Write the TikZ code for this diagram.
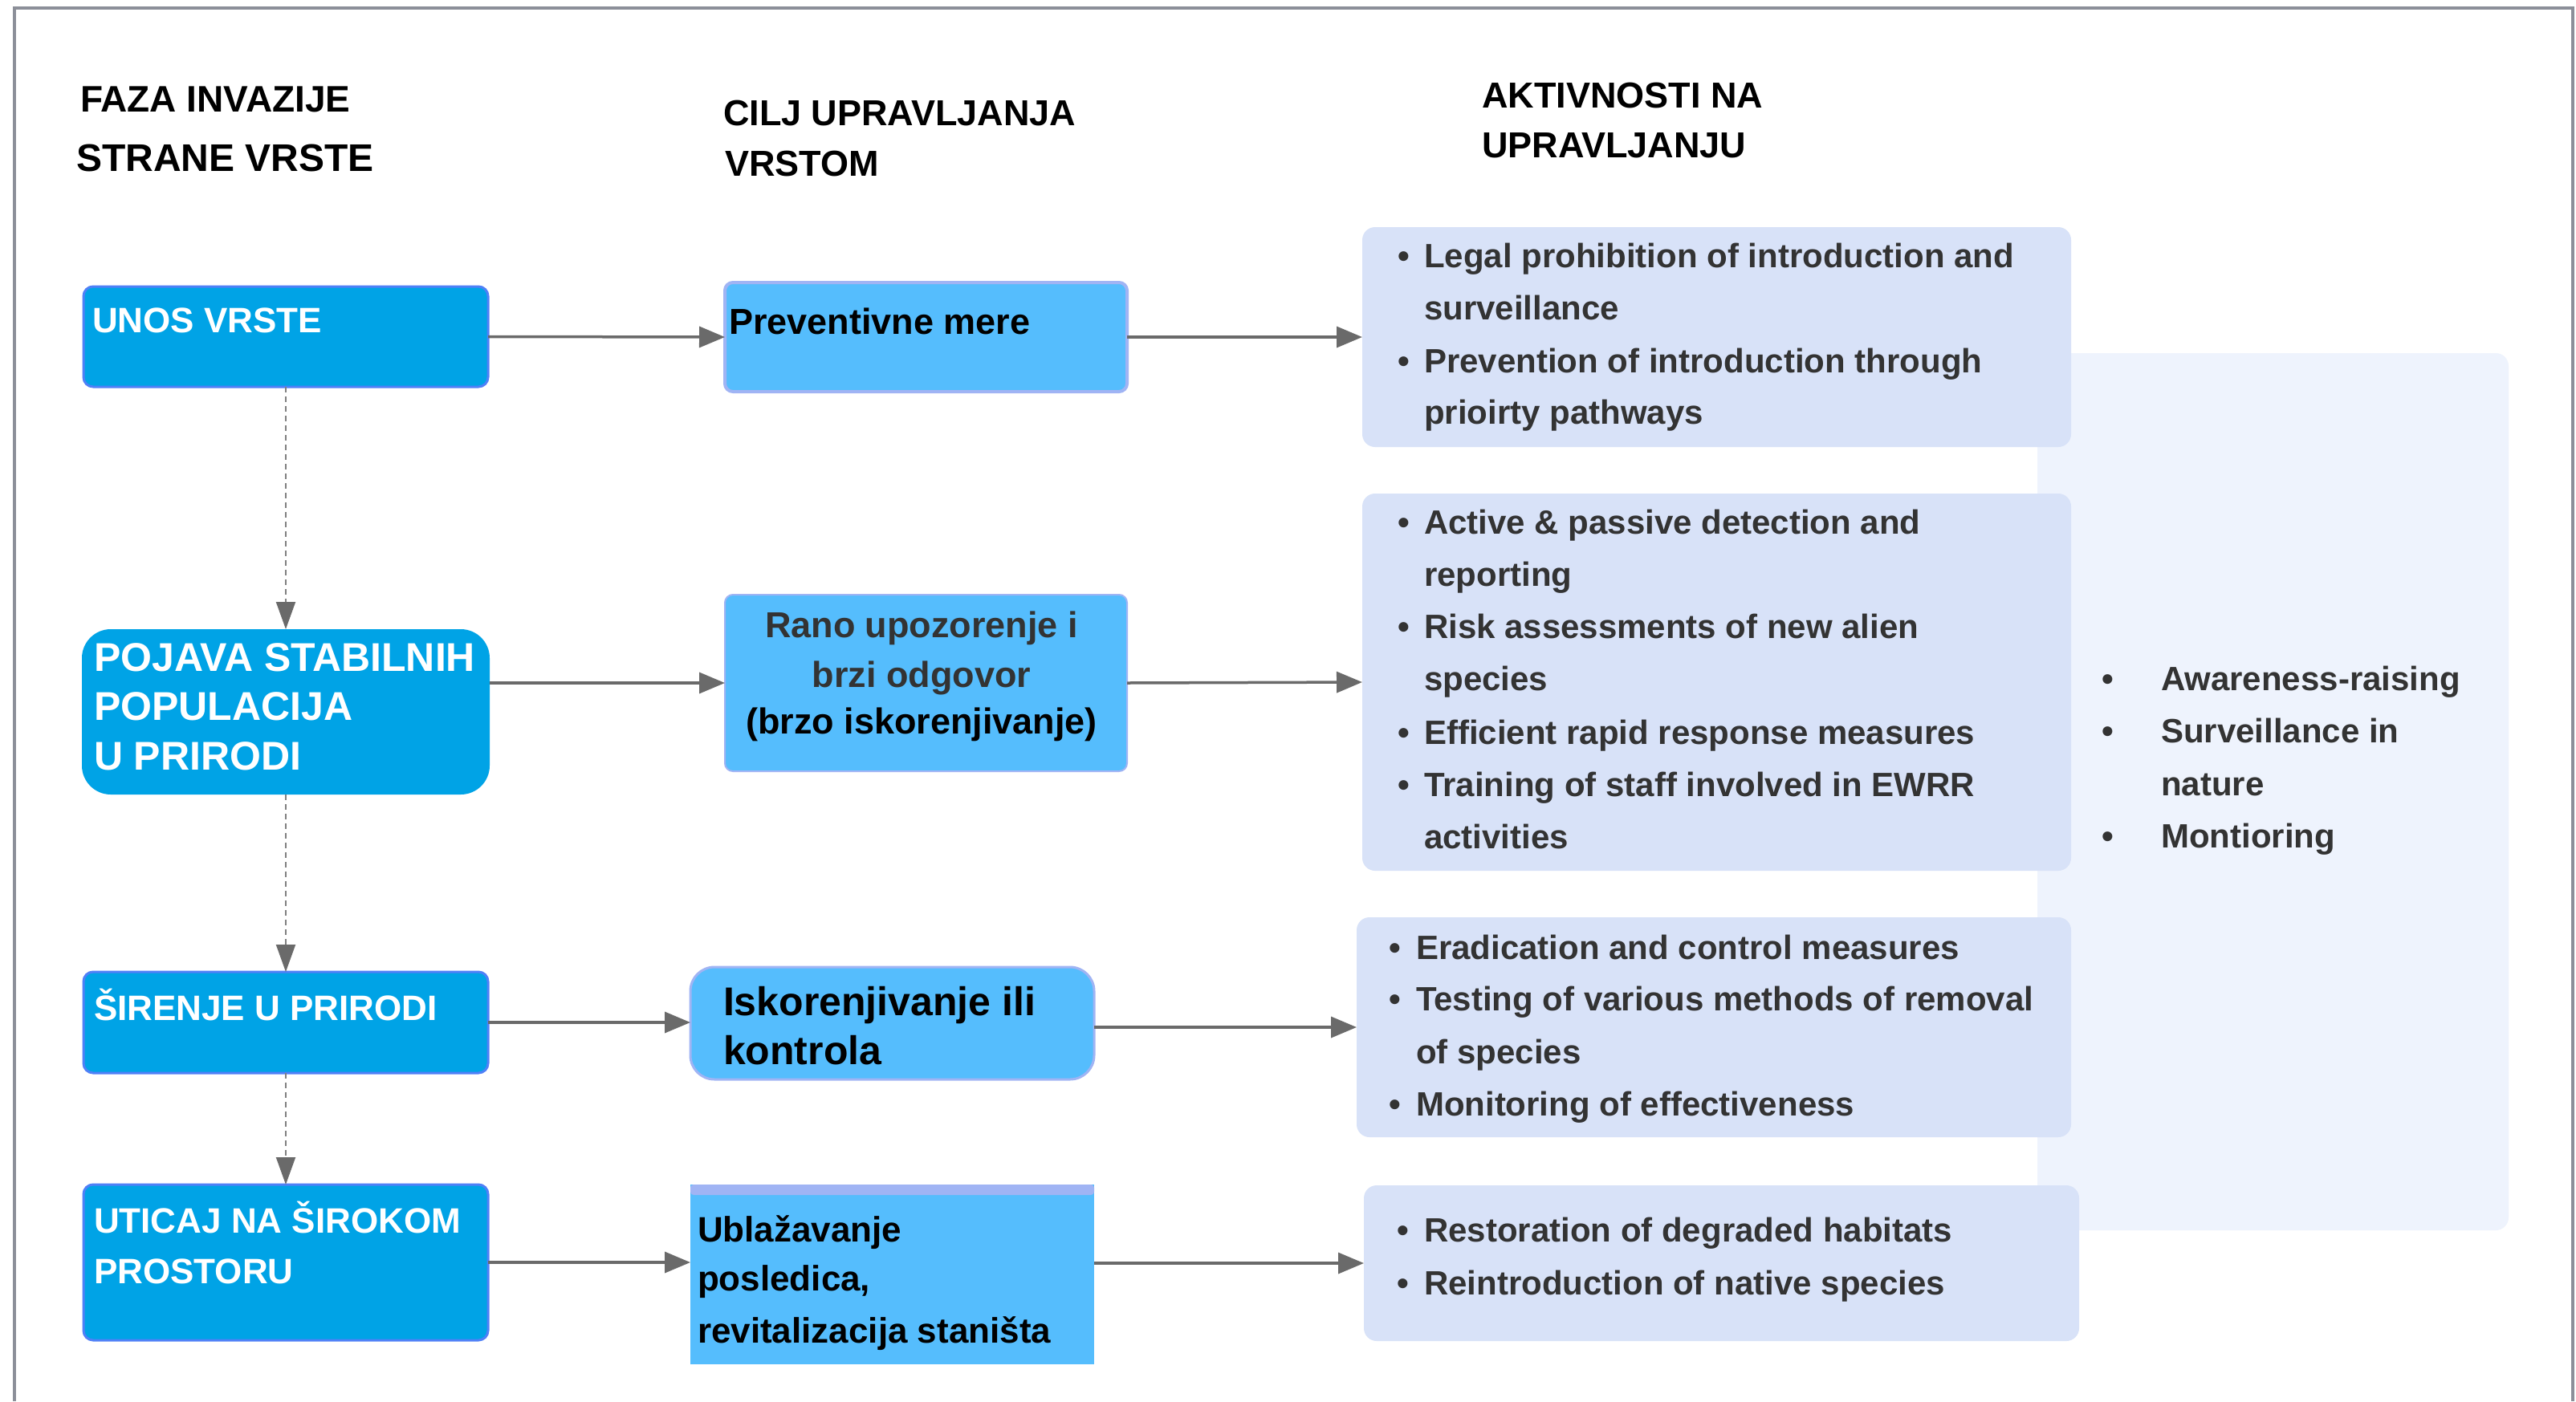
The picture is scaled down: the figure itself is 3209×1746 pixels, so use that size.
\documentclass[tikz,border=0pt]{standalone}
\usepackage{fontspec}
\setmainfont{Liberation Sans}
\usetikzlibrary{arrows.meta}
\definecolor{framec}{HTML}{8C8F99}
\definecolor{phase}{HTML}{00A3E6}
\definecolor{phaseedge}{HTML}{4F80F7}
\definecolor{goal}{HTML}{55BDFD}
\definecolor{goaledge}{HTML}{A0B4F4}
\definecolor{act}{HTML}{D8E2F8}
\definecolor{actbg}{HTML}{EEF3FD}
\definecolor{arrowc}{HTML}{6A6A6A}
\definecolor{dashc}{HTML}{808080}
\definecolor{txt}{HTML}{333333}
\begin{document}
\begin{tikzpicture}[x=1pt,y=-1pt,
  box/.style={anchor=north west, inner sep=0pt, outer sep=0pt, rectangle},
  phasebox/.style={box, fill=phase, draw=phaseedge, line width=4pt, rounded corners=12pt},
  goalbox/.style={box, fill=goal, draw=goaledge, line width=4pt, rounded corners=10pt},
  actbox/.style={box, fill=act, rounded corners=16pt},
  tl/.style={anchor=base west, inner sep=0pt, outer sep=0pt},
  hdr/.style={tl, font=\fontsize{45}{52}\selectfont\bfseries},
  ptxt/.style={tl, text=white, font=\fontsize{44}{52}\selectfont\bfseries},
  atxt/.style={tl, text=txt, font=\fontsize{42}{50}\selectfont\bfseries},
  flow/.style={draw=arrowc, line width=3.5pt, -{Triangle[length=32pt,width=26pt]}, arrowc},
  seq/.style={draw=dashc, line width=2pt, dash pattern=on 7pt off 5pt,
     -{Triangle[length=34pt,width=24pt,fill=arrowc,color=arrowc]}}
]
\useasboundingbox (0,0) rectangle (3209,1746);
\fill[white] (0,0) rectangle (3209,1746);
% frame
\draw[framec, line width=4pt] (18,1746) -- (18,10) -- (3205,10) -- (3205,1746);

% headers
\node[hdr, font=\fontsize{46}{52}\selectfont\bfseries] (h1a) at (100,139) {FAZA INVAZIJE};
\node[hdr, font=\fontsize{48}{52}\selectfont\bfseries] (h1b) at (95,213) {STRANE VRSTE};
\node[hdr] (h2a) at (901,156) {CILJ UPRAVLJANJA};
\node[hdr] (h2b) at (903,219) {VRSTOM};
\node[hdr] (h3a) at (1846,134) {AKTIVNOSTI NA};
\node[hdr] (h3b) at (1846,196) {UPRAVLJANJU};

% background box for common activities
\node[box, fill=actbg, rounded corners=16pt, minimum width=587pt, minimum height=1093pt] (bg) at (2538,440) {};

% phase boxes
\node[phasebox, line width=3pt, minimum width=504pt, minimum height=125pt] (unos) at (104,357) {};
\node[box, fill=phase, rounded corners=36pt, minimum width=508pt, minimum height=206pt] (pojava) at (102,784) {};
\node[phasebox, line width=3pt, minimum width=504pt, minimum height=126pt] (sirenje) at (104,1211) {};
\node[phasebox, line width=3pt, minimum width=504pt, minimum height=194pt] (uticaj) at (104,1476) {};

% goal boxes
\node[goalbox, minimum width=501pt, minimum height=136pt] (prev) at (903,352) {};
\node[goalbox, line width=2pt, minimum width=501pt, minimum height=220pt] (rano) at (903,741) {};
\node[goalbox, rounded corners=30pt, line width=3pt, minimum width=503pt, minimum height=140pt] (isk) at (860,1205) {};
\node[box, fill=goal, minimum width=503pt, minimum height=224pt] (ubl) at (860,1476) {};
\fill[goaledge, rounded corners=4pt] (ubl.north west) rectangle ([yshift=-13pt]ubl.north east);

% activity boxes
\node[actbox, minimum width=883pt, minimum height=274pt] (act1) at (1697,283) {};
\node[actbox, minimum width=883pt, minimum height=470pt] (act2) at (1697,615) {};
\node[actbox, minimum width=890pt, minimum height=274pt] (act3) at (1690,1143) {};
\node[actbox, minimum width=891pt, minimum height=194pt] (act4) at (1699,1477) {};

% phase texts
\node[ptxt] (t-unos) at (115,414) {UNOS VRSTE};
\node[ptxt, font=\fontsize{50}{56}\selectfont\bfseries] (t-poj1) at (117,836) {POJAVA STABILNIH};
\node[ptxt, font=\fontsize{50}{56}\selectfont\bfseries] (t-poj2) at (117,897) {POPULACIJA};
\node[ptxt, font=\fontsize{50}{56}\selectfont\bfseries] (t-poj3) at (117,959) {U PRIRODI};
\node[ptxt] (t-sir) at (117,1271) {ŠIRENJE U PRIRODI};
\node[ptxt] (t-uti1) at (117,1536) {UTICAJ NA ŠIROKOM};
\node[ptxt] (t-uti2) at (117,1599) {PROSTORU};

% goal texts
\node[tl, font=\fontsize{45}{52}\selectfont\bfseries] (t-prev) at (908,416) {Preventivne mere};
\node[anchor=base, inner sep=0pt, text=txt, font=\fontsize{45}{52}\selectfont\bfseries] (t-rano1) at (1148,794) {Rano upozorenje i};
\node[anchor=base, inner sep=0pt, text=txt, font=\fontsize{45}{52}\selectfont\bfseries] (t-rano2) at (1148,856) {brzi odgovor};
\node[anchor=base, inner sep=0pt, font=\fontsize{45}{52}\selectfont\bfseries] (t-rano3) at (1148,914) {(brzo iskorenjivanje)};
\node[tl, font=\fontsize{50}{58}\selectfont\bfseries] (t-isk1) at (901,1265) {Iskorenjivanje ili};
\node[tl, font=\fontsize{50}{58}\selectfont\bfseries] (t-isk2) at (901,1326) {kontrola};
\node[tl, font=\fontsize{44}{52}\selectfont\bfseries] (t-ubl1) at (869,1547) {Ublažavanje};
\node[tl, font=\fontsize{44}{52}\selectfont\bfseries] (t-ubl2) at (869,1608) {posledica,};
\node[tl, font=\fontsize{44}{52}\selectfont\bfseries] (t-ubl3) at (869,1673) {revitalizacija staništa};

% activity texts: box 1
\node[atxt] (b1a) at (1741,333) {•};
\node[atxt] (a1a) at (1774,333) {Legal prohibition of introduction and};
\node[atxt] (a1b) at (1774,398) {surveillance};
\node[atxt] (b1c) at (1741,464) {•};
\node[atxt] (a1c) at (1774,464) {Prevention of introduction through};
\node[atxt] (a1d) at (1774,528) {prioirty pathways};
% box 2
\node[atxt] (b2a) at (1741,665) {•};
\node[atxt] (a2a) at (1774,665) {Active \& passive detection and};
\node[atxt] (a2b) at (1774,730) {reporting};
\node[atxt] (b2c) at (1741,795) {•};
\node[atxt] (a2c) at (1774,795) {Risk assessments of new alien};
\node[atxt] (a2d) at (1774,860) {species};
\node[atxt] (b2e) at (1741,927) {•};
\node[atxt] (a2e) at (1774,927) {Efficient rapid response measures};
\node[atxt] (b2f) at (1741,992) {•};
\node[atxt] (a2f) at (1774,992) {Training of staff involved in EWRR};
\node[atxt] (a2g) at (1774,1057) {activities};
% box 3
\node[atxt] (b3a) at (1730,1195) {•};
\node[atxt] (a3a) at (1764,1195) {Eradication and control measures};
\node[atxt] (b3b) at (1730,1259) {•};
\node[atxt] (a3b) at (1764,1259) {Testing of various methods of removal};
\node[atxt] (a3c) at (1764,1325) {of species};
\node[atxt] (b3d) at (1730,1390) {•};
\node[atxt] (a3d) at (1764,1390) {Monitoring of effectiveness};
% box 4
\node[atxt] (b4a) at (1740,1547) {•};
\node[atxt] (a4a) at (1774,1547) {Restoration of degraded habitats};
\node[atxt] (b4b) at (1740,1613) {•};
\node[atxt] (a4b) at (1774,1613) {Reintroduction of native species};
% common activities
\node[atxt] (bga) at (2618,860) {•};
\node[atxt] (ga) at (2692,860) {Awareness-raising};
\node[atxt] (bgb) at (2618,925) {•};
\node[atxt] (gb) at (2692,925) {Surveillance in};
\node[atxt] (gc) at (2692,991) {nature};
\node[atxt] (bgd) at (2618,1056) {•};
\node[atxt] (gd) at (2692,1056) {Montioring};

% horizontal arrows
\draw[flow] (unos.east) -- (prev.west);
\draw[flow] (prev.east) -- (act1.west);
\draw[flow] (pojava.east |- rano.west) -- (rano.west);
\draw[flow] (rano.east) -- (act2.west);
\draw[flow] (sirenje.east) -- (isk.west |- sirenje.east);
\draw[flow] (isk.east |- act3.west) -- (act3.west);
\draw[flow] (uticaj.east) -- (ubl.west |- uticaj.east);
\draw[flow] (ubl.east |- act4.west) -- (act4.west);

% vertical dashed arrows
\draw[seq] (unos.south) -- (pojava.north);
\draw[seq] (pojava.south) -- (sirenje.north);
\draw[seq] (sirenje.south) -- (uticaj.north);
\end{tikzpicture}
\end{document}
